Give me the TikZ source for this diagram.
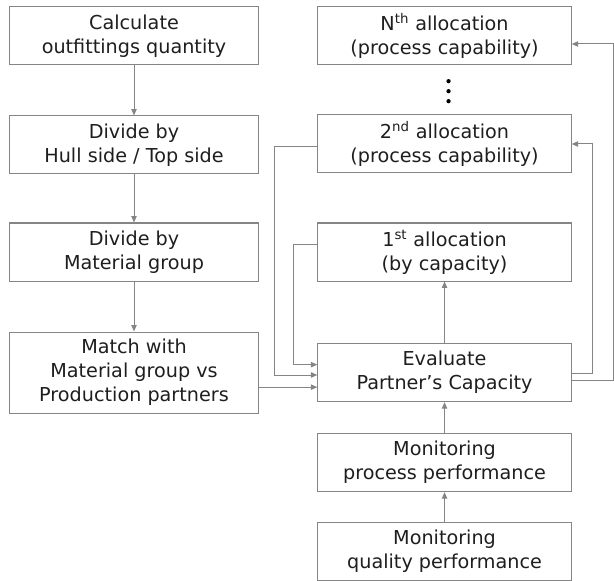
\documentclass[tikz,border=0pt]{standalone}
\usepackage{fontspec}
\setmainfont{DejaVu Sans}
\usetikzlibrary{arrows.meta, positioning, calc}
\definecolor{linegray}{HTML}{858585}
\definecolor{textgray}{HTML}{1E1E1E}

\begin{document}
\begin{tikzpicture}[
    box/.style={draw=linegray, line width=0.75pt, minimum height=43.5pt, align=center,
        text=textgray, font=\fontsize{14.4}{18}\selectfont, inner sep=2pt},
    lbox/.style={box, minimum width=187pt},
    rbox/.style={box, minimum width=190pt},
    arr/.style={-{Triangle[length=4.8pt, width=4pt]}, draw=linegray, line width=0.75pt}
]
\useasboundingbox (0,0) rectangle (460.5pt,-435.75pt);

% left column
\node[lbox] (calc) at (100.5pt,-27pt) {Calculate\\outfittings quantity};
\node[lbox, below=37.5pt of calc] (hull) {Divide by\\Hull side / Top side};
\node[lbox, below=36pt of hull] (group) {Divide by\\Material group};
\node[lbox, below=37.5pt of group, minimum height=60.75pt] (match) {Match with\\Material group vs\\Production partners};

% right column
\node[rbox] (nth) at (333.4pt,-27pt) {N\textsuperscript{th} allocation\\(process capability)};
\node[rbox, below=36.75pt of nth] (second) {2\textsuperscript{nd} allocation\\(process capability)};
\node[rbox, below=36.75pt of second] (first) {1\textsuperscript{st} allocation\\(by capacity)};
\node[rbox, below=46.25pt of first] (eval) {Evaluate\\Partner’s Capacity};
\node[rbox, below=23.25pt of eval] (mproc) {Monitoring\\process performance};
\node[rbox, below=22.5pt of mproc] (mqual) {Monitoring\\quality performance};

\foreach \k in {0,1,2}
    \fill[black] ([xshift=3pt, yshift=-11.75pt-\k*7.5pt]nth.south) circle (1.6pt);

\draw[arr] (calc) -- (hull);
\draw[arr] (hull) -- (group);
\draw[arr] (group) -- (match);
\draw[arr] (mqual) -- (mproc);
\draw[arr] (mproc) -- (eval);
\draw[arr] (eval) -- (first);

% feedback into evaluation
\draw[arr] ([yshift=-11pt]match.east) -- ([yshift=-11pt]match.east -| eval.west);
\draw[arr] ([yshift=6pt]first.west) -- ++(-17.6pt,0) |- ([yshift=6pt]eval.west);
\draw[arr] ([yshift=-2pt]second.west) -- ++(-32pt,0) |- ([yshift=-1.75pt]eval.west);

% evaluation to next allocations
\draw[arr] ([yshift=-0.75pt]eval.east) -- ++(15.4pt,0) |- (second.east);
\draw[arr] ([yshift=-6pt]eval.east) -- ++(31pt,0) |- ([yshift=-6pt]nth.east);
\end{tikzpicture}
\end{document}
